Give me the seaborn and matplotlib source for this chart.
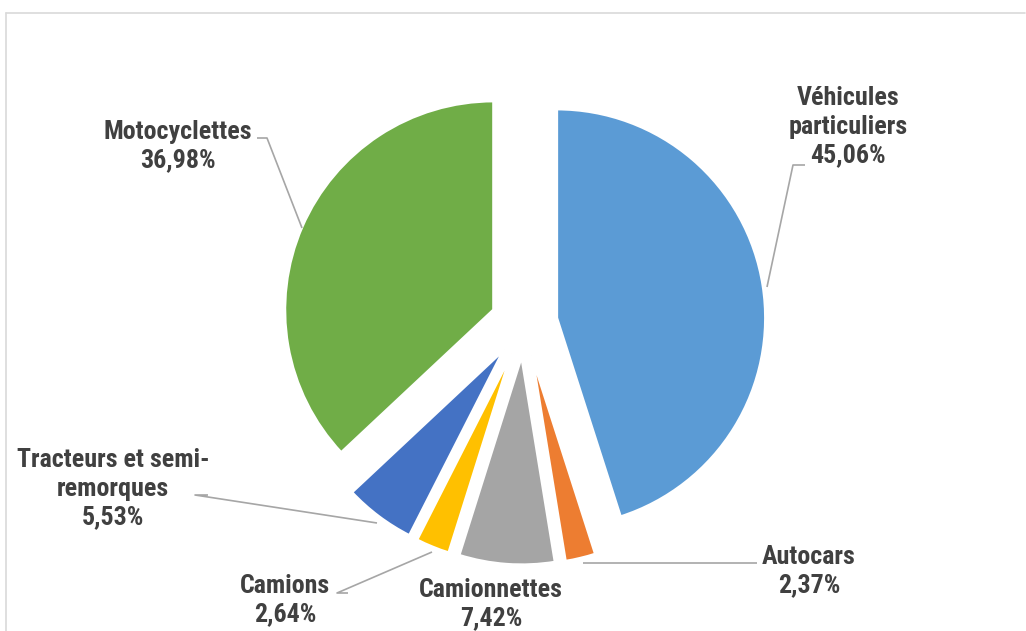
import matplotlib
matplotlib.use("Agg")
import matplotlib.pyplot as plt
from matplotlib import font_manager as fm
from matplotlib.lines import Line2D
import seaborn as sns

# ---- data ----
categories = ["Véhicules\nparticuliers", "Autocars", "Camionnettes", "Camions",
              "Tracteurs et semi-\nremorques", "Motocyclettes"]
shares = [45.06, 2.37, 7.42, 2.64, 5.53, 36.98]
colors = ["#5B9BD5", "#ED7D31", "#A5A5A5", "#FFC000", "#4472C4", "#70AD47"]

sns.set_theme(style="white")
names = {f.name for f in fm.fontManager.ttflist}
prefs = [n for n in ["Roboto Condensed", "PT Sans Narrow", "Liberation Sans Narrow",
                     "Liberation Sans"] if n in names]
plt.rcParams["font.family"] = prefs[:1] + ["DejaVu Sans"]

W, H = 1026, 631
fig = plt.figure(figsize=(W / 100, H / 100), dpi=100)
fig.patch.set_facecolor("white")
ax = fig.add_axes([0, 0, 1, 1])

def Y(y):
    return H - y

ax.pie(shares, colors=colors, startangle=90, counterclock=False,
       center=(524, Y(323)), radius=209, explode=[33] * len(shares),
       wedgeprops=dict(edgecolor="white", linewidth=2.2))
ax.set_xlim(0, W)
ax.set_ylim(0, H)
ax.set_aspect("equal")
ax.axis("off")

# labels: (x, y-center in px from top)
label_pos = [(848, 127), (809, 571), (491, 604), (285, 600), (113, 489), (178, 146)]
txt_color = "#404040"
for cat, v, (x, y) in zip(categories, shares, label_pos):
    s = f"{cat}\n{v:.2f}".replace(".", ",") + "%"
    ax.text(x, Y(y), s, ha="center", va="center", multialignment="center",
            fontsize=18.7, fontweight="bold", color=txt_color, linespacing=1.24)

# leader lines (px from top)
leaders = [
    [(805, 165), (793, 165), (767, 287)],
    [(757, 563), (583, 563)],
    [(348, 593), (337, 593), (432, 552)],
    [(208, 495), (195, 495), (377, 523)],
    [(257, 138), (267, 138), (302, 228)],
]
for pts in leaders:
    xs = [p[0] for p in pts]
    ys = [Y(p[1]) for p in pts]
    ax.plot(xs, ys, color="#A6A6A6", lw=1.2, solid_capstyle="butt")

# outer frame
fig.add_artist(Line2D([5.5 / W, 5.5 / W], [0, 1 - 12.5 / H], transform=fig.transFigure,
                      color="#D9D9D9", lw=1.2))
fig.add_artist(Line2D([5.5 / W, 1025 / W], [1 - 12.5 / H, 1 - 12.5 / H],
                      transform=fig.transFigure, color="#D9D9D9", lw=1.2))

fig.savefig("out.png", dpi=100)
